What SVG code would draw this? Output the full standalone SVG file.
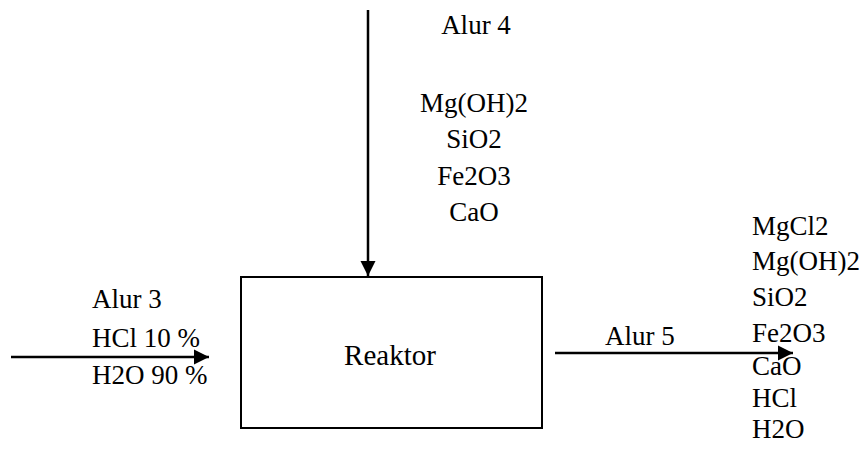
<svg xmlns="http://www.w3.org/2000/svg" width="866" height="468" viewBox="0 0 866 468">
<style>
.t{font-family:'Liberation Serif','Times New Roman',Times,serif;font-size:27px;fill:#000}
.c{text-anchor:middle}
.ln{stroke:#000;stroke-width:2.5;fill:none}
</style>
<defs>
<marker id="ah" markerUnits="userSpaceOnUse" markerWidth="16" markerHeight="16" viewBox="0 0 16 16" refX="15" refY="8" orient="auto">
<path d="M0,0.5 L15,8 L0,15.5 Z" fill="#000"/>
</marker>
</defs>
<rect width="866" height="468" fill="#fff"/>
<g id="connectors">
<line class="ln" x1="368" y1="10" x2="368" y2="276" marker-end="url(#ah)"/>
<line class="ln" x1="11" y1="357" x2="209" y2="357" marker-end="url(#ah)"/>
<line class="ln" x1="555" y1="353" x2="793" y2="353" marker-end="url(#ah)"/>
</g>
<g id="reaktor" class="t">
<rect x="241" y="277" width="301" height="151" fill="none" stroke="#000" stroke-width="2"/>
<text class="c" x="390" y="365" font-size="29">Reaktor</text>
</g>
<g id="alur4" class="t c">
<text x="476" y="34">Alur 4</text>
<text x="474" y="112">Mg(OH)2</text>
<text x="474" y="148">SiO2</text>
<text x="474" y="185">Fe2O3</text>
<text x="474" y="221">CaO</text>
</g>
<g id="alur3" class="t">
<text x="92" y="308">Alur 3</text>
<text x="92" y="347">HCl 10 %</text>
<text x="92" y="384">H2O 90 %</text>
</g>
<g id="alur5" class="t">
<text x="605" y="345">Alur 5</text>
<text x="752" y="235">MgCl2</text>
<text x="752" y="270">Mg(OH)2</text>
<text x="752" y="306">SiO2</text>
<text x="752" y="342">Fe2O3</text>
<text x="752" y="375">CaO</text>
<text x="752" y="407">HCl</text>
<text x="752" y="438">H2O</text>
</g>
</svg>
